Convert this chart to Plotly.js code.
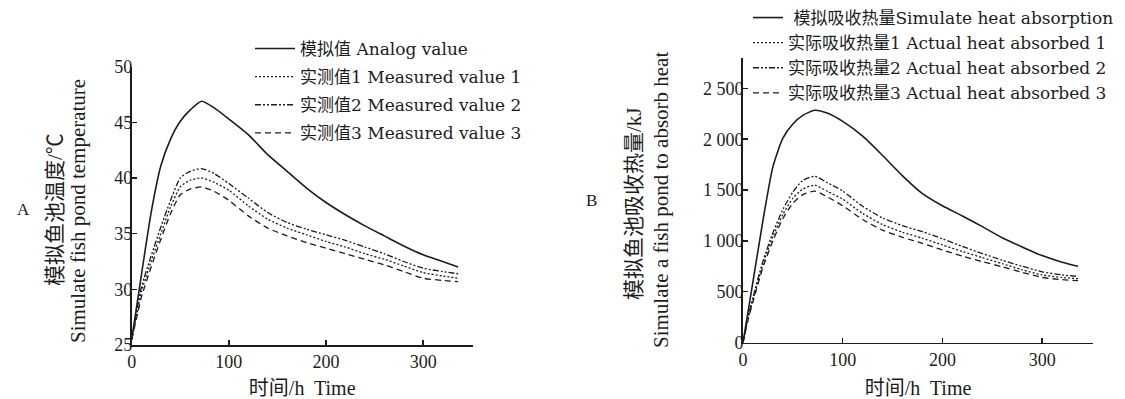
<!DOCTYPE html>
<html>
<head>
<meta charset="utf-8">
<script src="https://cdn.plot.ly/plotly-3.0.1.min.js"></script>
<style>html,body{margin:0;padding:0;background:#fff;}#chart{width:1125px;height:399px;}</style>
</head>
<body>
<div id="chart"></div>
<script>
// ---- Data ----
// Panel A: fish pond temperature (°C) vs time (h)
var timeA = [0, 5, 10, 20, 30, 40, 50, 60, 72, 85, 100, 120, 140, 160, 180, 200, 220, 240, 260, 280, 300, 320, 336];
var analogA = [25.5, 28.4, 31.3, 36.9, 41.1, 43.5, 45.1, 46.1, 46.9, 46.3, 45.3, 43.9, 42.1, 40.6, 39.1, 37.8, 36.7, 35.7, 34.8, 33.9, 33.1, 32.5, 32.0];
var measured1A = [25.5, 27.7, 29.8, 32.5, 35.0, 37.4, 39.2, 39.8, 40.0, 39.6, 38.9, 37.5, 36.3, 35.5, 34.9, 34.3, 33.8, 33.2, 32.7, 32.1, 31.5, 31.2, 31.0];
var measured2A = [25.5, 27.9, 30.2, 33.0, 35.6, 38.0, 40.0, 40.6, 40.85, 40.4, 39.5, 38.2, 36.9, 36.0, 35.4, 34.9, 34.4, 33.8, 33.2, 32.5, 31.9, 31.6, 31.4];
var measured3A = [25.5, 27.4, 29.3, 32.0, 34.5, 36.8, 38.5, 39.0, 39.2, 38.8, 38.0, 36.6, 35.5, 34.8, 34.2, 33.7, 33.2, 32.7, 32.2, 31.6, 31.0, 30.8, 30.7];

// Panel B: heat absorbed (kJ) vs time (h)
var timeB = [0, 5, 10, 20, 30, 40, 50, 60, 72, 85, 100, 120, 140, 160, 180, 200, 220, 240, 260, 280, 300, 320, 336];
var simHeatB = [0, 300, 600, 1200, 1730, 2010, 2150, 2235, 2285, 2255, 2175, 2030, 1840, 1640, 1465, 1345, 1245, 1140, 1030, 940, 855, 790, 750];
var actual1B = [0, 235, 420, 770, 1040, 1260, 1420, 1510, 1548, 1485, 1410, 1270, 1160, 1085, 1025, 960, 895, 835, 775, 715, 665, 640, 628];
var actual2B = [0, 250, 445, 800, 1080, 1310, 1480, 1595, 1635, 1570, 1490, 1340, 1225, 1150, 1090, 1020, 945, 875, 810, 750, 695, 665, 650];
var actual3B = [0, 220, 400, 740, 1000, 1220, 1370, 1455, 1490, 1430, 1345, 1210, 1105, 1035, 975, 910, 850, 795, 745, 690, 640, 618, 608];

var namesA = ['模拟值 Analog value', '实测值1 Measured value 1', '实测值2 Measured value 2', '实测值3 Measured value 3'];
var namesB = [' 模拟吸收热量Simulate heat absorption', '实际吸收热量1 Actual heat absorbed 1', '实际吸收热量2 Actual heat absorbed 2', '实际吸收热量3 Actual heat absorbed 3'];
var xTicks = [0, 100, 200, 300];
var yTicksA = [25, 30, 35, 40, 45, 50];
var yTicksB = [0, 500, 1000, 1500, 2000, 2500];
var yTickTextB = ['0', '500', '1 000', '1 500', '2 000', '2 500'];
var xTitle = '时间/h  Time';
var yTitleA = ['模拟鱼池温度/℃', 'Simulate fish pond temperature'];
var yTitleB = ['模拟鱼池吸收热量/kJ', 'Simulate a fish pond to absorb heat'];

// ---- Styles ----
var INK = '#1c1c1c';
var SERIF = "'Liberation Serif', 'Noto Sans CJK SC', serif";
var LEG = "'DejaVu Serif', 'Noto Sans CJK SC', serif";
var dashes = ['solid', '2px,2px', '6px,2px,2px,2px,2px,2px', '6px,4px'];
var widths = [1.6, 1.3, 1.3, 1.3];

var seriesA = [analogA, measured1A, measured2A, measured3A];
var seriesB = [simHeatB, actual1B, actual2B, actual3B];
var traces = [];
seriesA.forEach(function (ys, i) {
  traces.push({x: timeA, y: ys, type: 'scatter', mode: 'lines', name: namesA[i],
    line: {color: INK, width: widths[i], dash: dashes[i], shape: 'spline', smoothing: 0.6},
    xaxis: 'x', yaxis: 'y', legend: 'legend', legendgroup: 'a' + i, hoverinfo: 'skip'});
});
seriesB.forEach(function (ys, i) {
  traces.push({x: timeB, y: ys, type: 'scatter', mode: 'lines', name: namesB[i],
    line: {color: INK, width: widths[i], dash: dashes[i], shape: 'spline', smoothing: 0.6},
    xaxis: 'x2', yaxis: 'y2', legend: 'legend2', hoverinfo: 'skip'});
});

function xAxis(domain, anchor) {
  return {domain: domain, anchor: anchor, range: [0, 351], tickvals: xTicks,
    showline: true, linecolor: INK, linewidth: 1.8, ticks: 'inside', ticklen: 5, tickwidth: 1.5, tickcolor: INK,
    showgrid: false, zeroline: false, tickfont: {family: SERIF, size: 18, color: INK},
    title: {text: xTitle, font: {family: SERIF, size: 20, color: INK}, standoff: 12}};
}
function yAxis(domain, anchor, range, tickvals, ticktext) {
  var ax = {domain: domain, anchor: anchor, range: range, tickvals: tickvals,
    showline: true, linecolor: INK, linewidth: 1.8, ticks: 'inside', ticklen: 5, tickwidth: 1.5, tickcolor: INK,
    showgrid: false, zeroline: false, tickfont: {family: SERIF, size: 18, color: INK},
    ticklabelstandoff: -6};
  if (ticktext) ax.ticktext = ticktext;
  return ax;
}
function vTitle(text, px, py) {
  return {text: text, xref: 'paper', yref: 'paper', x: px / 1125, y: 1 - py / 399,
    xanchor: 'center', yanchor: 'middle', textangle: -90, showarrow: false,
    font: {family: SERIF, size: 21, color: INK}};
}

var layout = {
  width: 1125, height: 399,
  margin: {l: 0, r: 0, t: 0, b: 0},
  paper_bgcolor: '#fff', plot_bgcolor: '#fff',
  font: {family: SERIF, color: INK},
  showlegend: true,
  xaxis: xAxis([131.7 / 1125, 472.7 / 1125], 'y'),
  yaxis: yAxis([1 - 345 / 399, 1 - 66.7 / 399], 'x', [25, 50], yTicksA, null),
  xaxis2: xAxis([743 / 1125, 1093 / 1125], 'y2'),
  yaxis2: yAxis([1 - 342.5 / 399, 1 - 57.9 / 399], 'x2', [0, 2800], yTicksB, yTickTextB),
  legend: {x: 250 / 1125, y: 1 - 31 / 399, xanchor: 'left', yanchor: 'top', bgcolor: 'rgba(0,0,0,0)',
    font: {family: LEG, size: 17, color: INK}, tracegroupgap: 3, itemwidth: 40},
  legend2: {x: 748 / 1125, y: 1.0, xanchor: 'left', yanchor: 'top', bgcolor: 'rgba(0,0,0,0)',
    font: {family: LEG, size: 17, color: INK}, itemwidth: 30},
  annotations: [
    {text: 'A', xref: 'paper', yref: 'paper', x: 15 / 1125, y: 1 - 209 / 399, showarrow: false,
      font: {family: SERIF, size: 17, color: INK}},
    {text: 'B', xref: 'paper', yref: 'paper', x: 591 / 1125, y: 1 - 200 / 399, showarrow: false,
      font: {family: SERIF, size: 17, color: INK}},
    vTitle(yTitleA[0], 55, 210),
    vTitle(yTitleA[1], 78, 211),
    vTitle(yTitleB[0], 634, 204),
    vTitle(yTitleB[1], 661, 200)
  ]
};

Plotly.newPlot('chart', traces, layout, {staticPlot: true, displayModeBar: false});
</script>
</body>
</html>
